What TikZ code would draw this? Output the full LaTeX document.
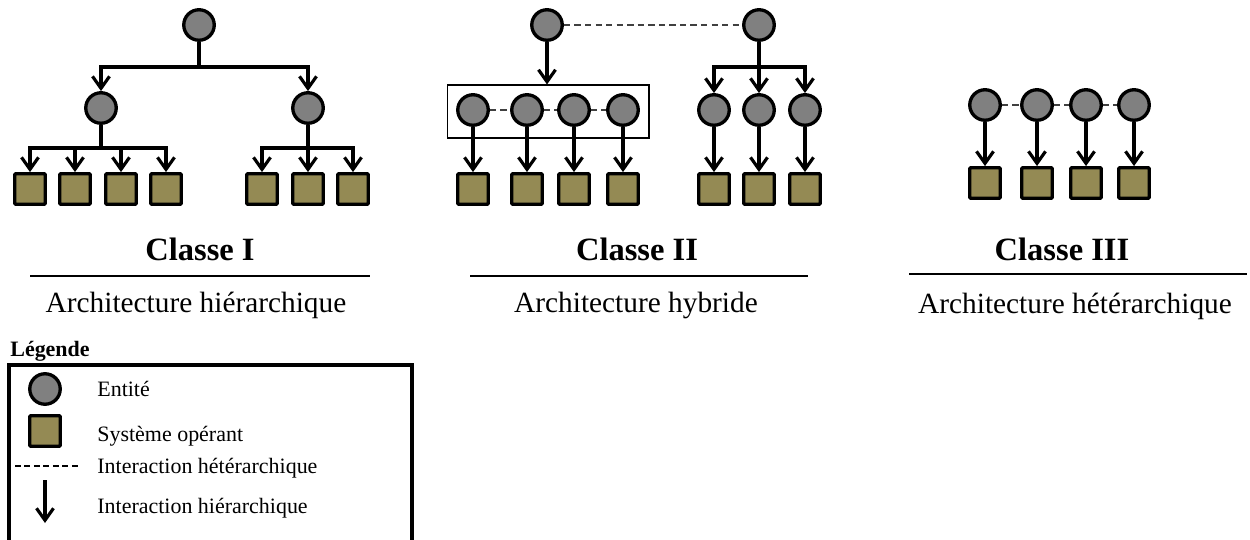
\documentclass[tikz,border=0pt]{standalone}
\usepackage{fontspec}
\setmainfont{Liberation Serif}
\usetikzlibrary{arrows.meta}
\definecolor{entgray}{RGB}{128,128,128}
\definecolor{sysolive}{RGB}{148,138,84}
\begin{document}
\begin{tikzpicture}[x=0.02cm,y=-0.02cm,
  ent/.style={circle, draw, line width=1.9pt, fill=entgray, minimum size=0.61cm, inner sep=0},
  sys/.style={rectangle, draw, line width=1.9pt, fill=sysolive, minimum size=0.61cm, inner sep=0, rounded corners=0.6pt},
  hier/.style={line width=1.8pt, -{Straight Barb[length=2.4mm,width=3.4mm]}},
  hete/.style={draw=black!75, line width=0.8pt, dash pattern=on 3.6pt off 2.4pt},
  txt/.style={inner sep=0}]
\useasboundingbox (0,0) rectangle (1250,540);
\node[ent] (a0) at (199,25){};
\node[ent] (a1) at (101,108){};
\node[ent] (a2) at (308,108){};
\coordinate (ab0) at (199,67);
\coordinate (ab1) at (101,148);
\coordinate (ab2) at (308,148);
\draw[hier](a0) -- (ab0) -| (a1);
\draw[hier](a0) -- (ab0) -| (a2);
\foreach \i/\x in {1/30,2/75,3/121,4/166}{
  \node[sys] (as\i) at (\x,189){};
  \draw[hier](a1) -- (ab1) -| (as\i);
}
\foreach \i/\x in {5/262,6/308,7/353}{
  \node[sys] (as\i) at (\x,189){};
  \draw[hier](a2) -- (ab2) -| (as\i);
}
\node[ent] (b0) at (547,25){};
\node[ent] (b5) at (759,25){};
\draw[hete](b0) -- (b5);
\node[draw, line width=0.6pt, minimum width=4.04cm, minimum height=1.06cm, inner sep=0] (grp) at (548,111.5){};
\draw[hier](b0) -- (b0 |- grp.north);
\foreach \i/\x in {1/473,2/527,3/574,4/623}{
  \node[ent] (b\i) at (\x,110){};
  \node[sys] (bs\i) at (\x,189){};
  \draw[hier](b\i) -- (bs\i);
}
\draw[hete](b1) -- (b2);
\draw[hete](b2) -- (b3);
\draw[hete](b3) -- (b4);
\coordinate (bb) at (759,67);
\foreach \i/\x in {6/714,7/759,8/805}{
  \node[ent] (b\i) at (\x,110){};
  \node[sys] (bs\i) at (\x,189){};
  \draw[hier](b5) -- (bb) -| (b\i);
  \draw[hier](b\i) -- (bs\i);
}
\foreach \i/\x in {1/985,2/1037,3/1086,4/1134}{
  \node[ent] (c\i) at (\x,105){};
  \node[sys] (cs\i) at (\x,183){};
  \draw[hier](c\i) -- (cs\i);
}
\draw[hete](c1) -- (c2);
\draw[hete](c2) -- (c3);
\draw[hete](c3) -- (c4);
\node[txt, font=\bfseries\fontsize{18.5}{22}\selectfont] (k1) at (200,249){Classe I};
\node[txt, font=\bfseries\fontsize{18.5}{22}\selectfont] (k2) at (637,249){Classe II};
\node[txt, font=\bfseries\fontsize{18.5}{22}\selectfont] (k3) at (1062,249){Classe III};
\draw[line width=0.8pt](30,276) -- (370,276);
\draw[line width=0.8pt](470,276) -- (808,276);
\draw[line width=0.8pt](909,274) -- (1247,274);
\node[txt, font=\fontsize{16.7}{20}\selectfont] (r1) at (196,305){Architecture hiérarchique};
\node[txt, font=\fontsize{16.7}{20}\selectfont] (r2) at (636,305){Architecture hybride};
\node[txt, font=\fontsize{16.7}{20}\selectfont] (r3) at (1075,306){Architecture hétérarchique};
\node[txt, anchor=west, font=\bfseries\fontsize{12.5}{15}\selectfont] (lg) at (10,351){Légende};
\draw[line width=1.8pt](9,365) rectangle (412,580);
\node[ent] (le) at (45,389){};
\node[sys] (ls) at (45,431){};
\draw[line width=0.6pt, dash pattern=on 3.4pt off 2pt](15,466) -- (80,466);
\draw[hier](45,480) -- (45,523);
\node[txt, anchor=west, font=\fontsize{12.5}{15}\selectfont] (l1) at (97,389){Entité};
\node[txt, anchor=west, font=\fontsize{12.5}{15}\selectfont] (l2) at (97,436){Système opérant};
\node[txt, anchor=west, font=\fontsize{12.5}{15}\selectfont] (l3) at (97,468){Interaction hétérarchique};
\node[txt, anchor=west, font=\fontsize{12.5}{15}\selectfont] (l4) at (97,508){Interaction hiérarchique};
\end{tikzpicture}
\end{document}
